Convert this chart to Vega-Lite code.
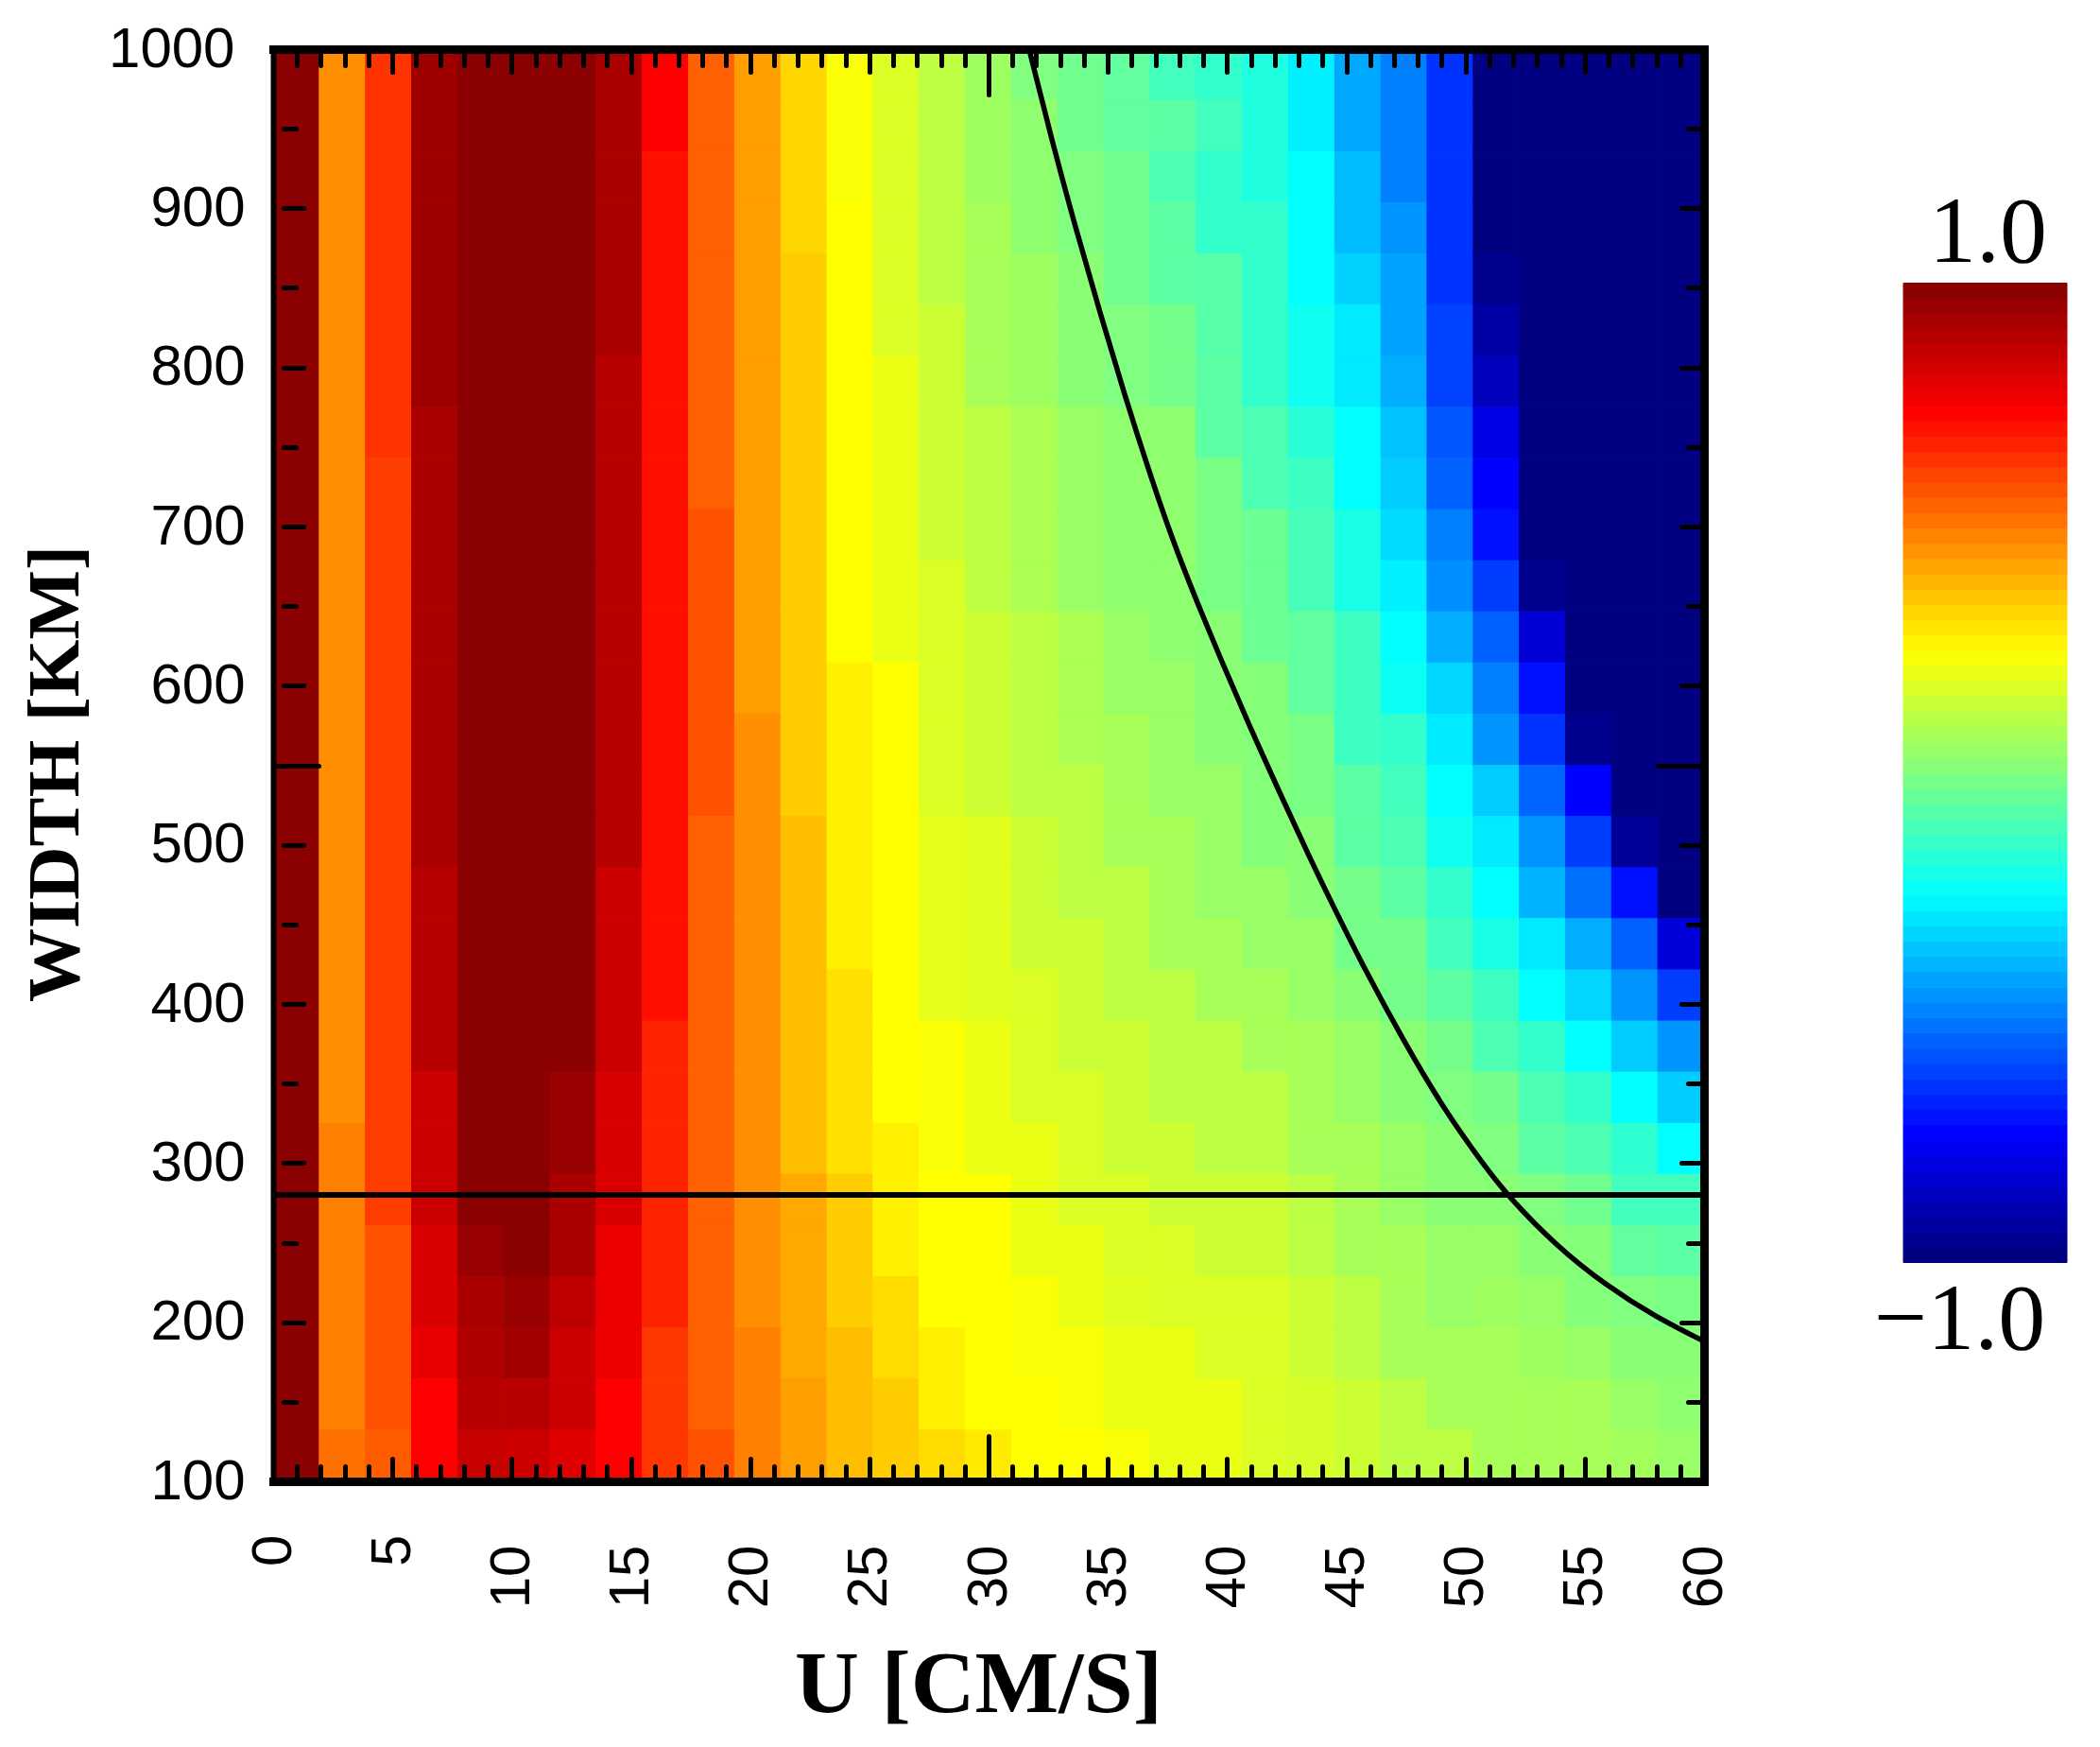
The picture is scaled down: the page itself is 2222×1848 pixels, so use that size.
{"$schema":"https://vega.github.io/schema/vega-lite/v6.json","background":"white","padding":{"left":20,"top":22,"right":0,"bottom":60},"bounds":"flush","spacing":211,"config":{"view":{"stroke":null},"axis":{"grid":false,"labelFont":"Liberation Sans","labelFontSize":60,"labelColor":"black","labelOverlap":false,"labelBound":false,"labelFlush":false,"domainColor":"black","tickColor":"black","tickWidth":5,"tickCap":"round","domainCap":"square","titleColor":"black","titleFont":"Liberation Serif","titleFontWeight":"bold"}},
"datasets":{"rule280":[{"u":0,"w":280},{"u":60,"w":280}],
"curve":[{"u":31.7,"w":1000},{"u":32.7,"w":940},{"u":33.7,"w":885},{"u":34.7,"w":833},{"u":35.7,"w":783},{"u":36.7,"w":736},{"u":37.7,"w":692},{"u":38.7,"w":654},{"u":39.7,"w":618},{"u":40.9,"w":576},{"u":42.2,"w":533},{"u":43.4,"w":494},{"u":44.5,"w":460},{"u":45.8,"w":421},{"u":47.4,"w":377},{"u":49,"w":336},{"u":50.8,"w":298},{"u":51.8,"w":279},{"u":53.8,"w":248},{"u":55.9,"w":223},{"u":58,"w":203},{"u":60,"w":188}],
"cells":[
{"u":0,"w":1000,"v":1},{"u":0,"w":967,"v":1},{"u":0,"w":933,"v":1},{"u":0,"w":900,"v":1},{"u":0,"w":867,"v":1},{"u":0,"w":833,"v":1},{"u":0,"w":800,"v":1},{"u":0,"w":767,"v":1},{"u":0,"w":733,"v":1},{"u":0,"w":700,"v":1},{"u":0,"w":667,"v":1},{"u":0,"w":633,"v":1},{"u":0,"w":600,"v":1},{"u":0,"w":567,"v":1},{"u":0,"w":533,"v":1},{"u":0,"w":500,"v":1},{"u":0,"w":467,"v":1},{"u":0,"w":433,"v":1},{"u":0,"w":400,"v":1},{"u":0,"w":367,"v":1},{"u":0,"w":333,"v":1},{"u":0,"w":300,"v":1},{"u":0,"w":267,"v":1},{"u":0,"w":233,"v":1},{"u":0,"w":200,"v":1},{"u":0,"w":167,"v":1},{"u":0,"w":133,"v":1},{"u":0,"w":100,"v":1},
{"u":2,"w":1000,"v":0.47},{"u":2,"w":967,"v":0.47},{"u":2,"w":933,"v":0.47},{"u":2,"w":900,"v":0.47},{"u":2,"w":867,"v":0.47},{"u":2,"w":833,"v":0.47},{"u":2,"w":800,"v":0.47},{"u":2,"w":767,"v":0.47},{"u":2,"w":733,"v":0.47},{"u":2,"w":700,"v":0.47},{"u":2,"w":667,"v":0.47},{"u":2,"w":633,"v":0.47},{"u":2,"w":600,"v":0.47},{"u":2,"w":567,"v":0.47},{"u":2,"w":533,"v":0.47},{"u":2,"w":500,"v":0.47},{"u":2,"w":467,"v":0.47},{"u":2,"w":433,"v":0.47},{"u":2,"w":400,"v":0.47},{"u":2,"w":367,"v":0.47},{"u":2,"w":333,"v":0.47},{"u":2,"w":300,"v":0.5},{"u":2,"w":267,"v":0.5},{"u":2,"w":233,"v":0.5},{"u":2,"w":200,"v":0.5},{"u":2,"w":167,"v":0.5},{"u":2,"w":133,"v":0.5},{"u":2,"w":100,"v":0.53},
{"u":4,"w":1000,"v":0.65},{"u":4,"w":967,"v":0.65},{"u":4,"w":933,"v":0.65},{"u":4,"w":900,"v":0.65},{"u":4,"w":867,"v":0.65},{"u":4,"w":833,"v":0.65},{"u":4,"w":800,"v":0.65},{"u":4,"w":767,"v":0.65},{"u":4,"w":733,"v":0.63},{"u":4,"w":700,"v":0.63},{"u":4,"w":667,"v":0.63},{"u":4,"w":633,"v":0.63},{"u":4,"w":600,"v":0.63},{"u":4,"w":567,"v":0.63},{"u":4,"w":533,"v":0.63},{"u":4,"w":500,"v":0.63},{"u":4,"w":467,"v":0.63},{"u":4,"w":433,"v":0.63},{"u":4,"w":400,"v":0.63},{"u":4,"w":367,"v":0.63},{"u":4,"w":333,"v":0.63},{"u":4,"w":300,"v":0.63},{"u":4,"w":267,"v":0.63},{"u":4,"w":233,"v":0.59},{"u":4,"w":200,"v":0.59},{"u":4,"w":167,"v":0.59},{"u":4,"w":133,"v":0.59},{"u":4,"w":100,"v":0.57},
{"u":6,"w":1000,"v":0.96},{"u":6,"w":967,"v":0.96},{"u":6,"w":933,"v":0.96},{"u":6,"w":900,"v":0.96},{"u":6,"w":867,"v":0.96},{"u":6,"w":833,"v":0.96},{"u":6,"w":800,"v":0.96},{"u":6,"w":767,"v":0.93},{"u":6,"w":733,"v":0.93},{"u":6,"w":700,"v":0.93},{"u":6,"w":667,"v":0.93},{"u":6,"w":633,"v":0.93},{"u":6,"w":600,"v":0.93},{"u":6,"w":567,"v":0.93},{"u":6,"w":533,"v":0.93},{"u":6,"w":500,"v":0.93},{"u":6,"w":467,"v":0.9},{"u":6,"w":433,"v":0.9},{"u":6,"w":400,"v":0.9},{"u":6,"w":367,"v":0.9},{"u":6,"w":333,"v":0.86},{"u":6,"w":300,"v":0.86},{"u":6,"w":267,"v":0.86},{"u":6,"w":233,"v":0.83},{"u":6,"w":200,"v":0.83},{"u":6,"w":167,"v":0.8},{"u":6,"w":133,"v":0.75},{"u":6,"w":100,"v":0.75},
{"u":8,"w":1000,"v":1},{"u":8,"w":967,"v":1},{"u":8,"w":933,"v":1},{"u":8,"w":900,"v":1},{"u":8,"w":867,"v":1},{"u":8,"w":833,"v":1},{"u":8,"w":800,"v":1},{"u":8,"w":767,"v":1},{"u":8,"w":733,"v":1},{"u":8,"w":700,"v":1},{"u":8,"w":667,"v":1},{"u":8,"w":633,"v":1},{"u":8,"w":600,"v":1},{"u":8,"w":567,"v":1},{"u":8,"w":533,"v":1},{"u":8,"w":500,"v":1},{"u":8,"w":467,"v":1},{"u":8,"w":433,"v":1},{"u":8,"w":400,"v":1},{"u":8,"w":367,"v":1},{"u":8,"w":333,"v":1},{"u":8,"w":300,"v":1},{"u":8,"w":267,"v":1},{"u":8,"w":233,"v":0.97},{"u":8,"w":200,"v":0.93},{"u":8,"w":167,"v":0.92},{"u":8,"w":133,"v":0.9},{"u":8,"w":100,"v":0.87},
{"u":10,"w":1000,"v":1},{"u":10,"w":967,"v":1},{"u":10,"w":933,"v":1},{"u":10,"w":900,"v":1},{"u":10,"w":867,"v":1},{"u":10,"w":833,"v":1},{"u":10,"w":800,"v":1},{"u":10,"w":767,"v":1},{"u":10,"w":733,"v":1},{"u":10,"w":700,"v":1},{"u":10,"w":667,"v":1},{"u":10,"w":633,"v":1},{"u":10,"w":600,"v":1},{"u":10,"w":567,"v":1},{"u":10,"w":533,"v":1},{"u":10,"w":500,"v":1},{"u":10,"w":467,"v":1},{"u":10,"w":433,"v":1},{"u":10,"w":400,"v":1},{"u":10,"w":367,"v":1},{"u":10,"w":333,"v":1},{"u":10,"w":300,"v":1},{"u":10,"w":267,"v":1},{"u":10,"w":233,"v":1},{"u":10,"w":200,"v":0.97},{"u":10,"w":167,"v":0.95},{"u":10,"w":133,"v":0.9},{"u":10,"w":100,"v":0.86},
{"u":12,"w":1000,"v":1},{"u":12,"w":967,"v":1},{"u":12,"w":933,"v":1},{"u":12,"w":900,"v":1},{"u":12,"w":867,"v":1},{"u":12,"w":833,"v":1},{"u":12,"w":800,"v":1},{"u":12,"w":767,"v":1},{"u":12,"w":733,"v":1},{"u":12,"w":700,"v":1},{"u":12,"w":667,"v":1},{"u":12,"w":633,"v":1},{"u":12,"w":600,"v":1},{"u":12,"w":567,"v":1},{"u":12,"w":533,"v":1},{"u":12,"w":500,"v":1},{"u":12,"w":467,"v":1},{"u":12,"w":433,"v":1},{"u":12,"w":400,"v":1},{"u":12,"w":367,"v":1},{"u":12,"w":333,"v":0.97},{"u":12,"w":300,"v":0.97},{"u":12,"w":267,"v":0.93},{"u":12,"w":233,"v":0.93},{"u":12,"w":200,"v":0.89},{"u":12,"w":167,"v":0.86},{"u":12,"w":133,"v":0.86},{"u":12,"w":100,"v":0.82},
{"u":14,"w":1000,"v":0.93},{"u":14,"w":967,"v":0.93},{"u":14,"w":933,"v":0.93},{"u":14,"w":900,"v":0.93},{"u":14,"w":867,"v":0.93},{"u":14,"w":833,"v":0.93},{"u":14,"w":800,"v":0.9},{"u":14,"w":767,"v":0.9},{"u":14,"w":733,"v":0.9},{"u":14,"w":700,"v":0.9},{"u":14,"w":667,"v":0.9},{"u":14,"w":633,"v":0.9},{"u":14,"w":600,"v":0.9},{"u":14,"w":567,"v":0.9},{"u":14,"w":533,"v":0.9},{"u":14,"w":500,"v":0.9},{"u":14,"w":467,"v":0.86},{"u":14,"w":433,"v":0.86},{"u":14,"w":400,"v":0.86},{"u":14,"w":367,"v":0.86},{"u":14,"w":333,"v":0.83},{"u":14,"w":300,"v":0.83},{"u":14,"w":267,"v":0.83},{"u":14,"w":233,"v":0.79},{"u":14,"w":200,"v":0.79},{"u":14,"w":167,"v":0.79},{"u":14,"w":133,"v":0.75},{"u":14,"w":100,"v":0.75},
{"u":16,"w":1000,"v":0.75},{"u":16,"w":967,"v":0.75},{"u":16,"w":933,"v":0.72},{"u":16,"w":900,"v":0.72},{"u":16,"w":867,"v":0.72},{"u":16,"w":833,"v":0.72},{"u":16,"w":800,"v":0.72},{"u":16,"w":767,"v":0.72},{"u":16,"w":733,"v":0.72},{"u":16,"w":700,"v":0.72},{"u":16,"w":667,"v":0.72},{"u":16,"w":633,"v":0.72},{"u":16,"w":600,"v":0.72},{"u":16,"w":567,"v":0.72},{"u":16,"w":533,"v":0.72},{"u":16,"w":500,"v":0.72},{"u":16,"w":467,"v":0.72},{"u":16,"w":433,"v":0.72},{"u":16,"w":400,"v":0.72},{"u":16,"w":367,"v":0.68},{"u":16,"w":333,"v":0.68},{"u":16,"w":300,"v":0.68},{"u":16,"w":267,"v":0.68},{"u":16,"w":233,"v":0.68},{"u":16,"w":200,"v":0.68},{"u":16,"w":167,"v":0.64},{"u":16,"w":133,"v":0.64},{"u":16,"w":100,"v":0.64},
{"u":18,"w":1000,"v":0.56},{"u":18,"w":967,"v":0.56},{"u":18,"w":933,"v":0.56},{"u":18,"w":900,"v":0.56},{"u":18,"w":867,"v":0.56},{"u":18,"w":833,"v":0.56},{"u":18,"w":800,"v":0.56},{"u":18,"w":767,"v":0.56},{"u":18,"w":733,"v":0.56},{"u":18,"w":700,"v":0.59},{"u":18,"w":667,"v":0.59},{"u":18,"w":633,"v":0.59},{"u":18,"w":600,"v":0.59},{"u":18,"w":567,"v":0.59},{"u":18,"w":533,"v":0.59},{"u":18,"w":500,"v":0.56},{"u":18,"w":467,"v":0.56},{"u":18,"w":433,"v":0.56},{"u":18,"w":400,"v":0.56},{"u":18,"w":367,"v":0.56},{"u":18,"w":333,"v":0.56},{"u":18,"w":300,"v":0.56},{"u":18,"w":267,"v":0.56},{"u":18,"w":233,"v":0.56},{"u":18,"w":200,"v":0.56},{"u":18,"w":167,"v":0.56},{"u":18,"w":133,"v":0.56},{"u":18,"w":100,"v":0.59},
{"u":20,"w":1000,"v":0.44},{"u":20,"w":967,"v":0.44},{"u":20,"w":933,"v":0.44},{"u":20,"w":900,"v":0.44},{"u":20,"w":867,"v":0.44},{"u":20,"w":833,"v":0.44},{"u":20,"w":800,"v":0.44},{"u":20,"w":767,"v":0.44},{"u":20,"w":733,"v":0.44},{"u":20,"w":700,"v":0.44},{"u":20,"w":667,"v":0.44},{"u":20,"w":633,"v":0.44},{"u":20,"w":600,"v":0.44},{"u":20,"w":567,"v":0.47},{"u":20,"w":533,"v":0.47},{"u":20,"w":500,"v":0.47},{"u":20,"w":467,"v":0.47},{"u":20,"w":433,"v":0.47},{"u":20,"w":400,"v":0.47},{"u":20,"w":367,"v":0.47},{"u":20,"w":333,"v":0.47},{"u":20,"w":300,"v":0.47},{"u":20,"w":267,"v":0.47},{"u":20,"w":233,"v":0.47},{"u":20,"w":200,"v":0.47},{"u":20,"w":167,"v":0.5},{"u":20,"w":133,"v":0.5},{"u":20,"w":100,"v":0.5},
{"u":22,"w":1000,"v":0.33},{"u":22,"w":967,"v":0.33},{"u":22,"w":933,"v":0.33},{"u":22,"w":900,"v":0.33},{"u":22,"w":867,"v":0.35},{"u":22,"w":833,"v":0.35},{"u":22,"w":800,"v":0.35},{"u":22,"w":767,"v":0.35},{"u":22,"w":733,"v":0.35},{"u":22,"w":700,"v":0.35},{"u":22,"w":667,"v":0.35},{"u":22,"w":633,"v":0.35},{"u":22,"w":600,"v":0.35},{"u":22,"w":567,"v":0.35},{"u":22,"w":533,"v":0.35},{"u":22,"w":500,"v":0.38},{"u":22,"w":467,"v":0.38},{"u":22,"w":433,"v":0.38},{"u":22,"w":400,"v":0.38},{"u":22,"w":367,"v":0.38},{"u":22,"w":333,"v":0.38},{"u":22,"w":300,"v":0.38},{"u":22,"w":267,"v":0.42},{"u":22,"w":233,"v":0.42},{"u":22,"w":200,"v":0.42},{"u":22,"w":167,"v":0.42},{"u":22,"w":133,"v":0.44},{"u":22,"w":100,"v":0.44},
{"u":24,"w":1000,"v":0.24},{"u":24,"w":967,"v":0.24},{"u":24,"w":933,"v":0.24},{"u":24,"w":900,"v":0.25},{"u":24,"w":867,"v":0.25},{"u":24,"w":833,"v":0.25},{"u":24,"w":800,"v":0.25},{"u":24,"w":767,"v":0.25},{"u":24,"w":733,"v":0.25},{"u":24,"w":700,"v":0.25},{"u":24,"w":667,"v":0.25},{"u":24,"w":633,"v":0.25},{"u":24,"w":600,"v":0.28},{"u":24,"w":567,"v":0.28},{"u":24,"w":533,"v":0.28},{"u":24,"w":500,"v":0.28},{"u":24,"w":467,"v":0.28},{"u":24,"w":433,"v":0.28},{"u":24,"w":400,"v":0.31},{"u":24,"w":367,"v":0.31},{"u":24,"w":333,"v":0.31},{"u":24,"w":300,"v":0.31},{"u":24,"w":267,"v":0.35},{"u":24,"w":233,"v":0.35},{"u":24,"w":200,"v":0.35},{"u":24,"w":167,"v":0.38},{"u":24,"w":133,"v":0.38},{"u":24,"w":100,"v":0.38},
{"u":26,"w":1000,"v":0.18},{"u":26,"w":967,"v":0.18},{"u":26,"w":933,"v":0.18},{"u":26,"w":900,"v":0.18},{"u":26,"w":867,"v":0.18},{"u":26,"w":833,"v":0.18},{"u":26,"w":800,"v":0.21},{"u":26,"w":767,"v":0.21},{"u":26,"w":733,"v":0.21},{"u":26,"w":700,"v":0.21},{"u":26,"w":667,"v":0.21},{"u":26,"w":633,"v":0.21},{"u":26,"w":600,"v":0.25},{"u":26,"w":567,"v":0.25},{"u":26,"w":533,"v":0.25},{"u":26,"w":500,"v":0.25},{"u":26,"w":467,"v":0.25},{"u":26,"w":433,"v":0.25},{"u":26,"w":400,"v":0.25},{"u":26,"w":367,"v":0.25},{"u":26,"w":333,"v":0.25},{"u":26,"w":300,"v":0.28},{"u":26,"w":267,"v":0.28},{"u":26,"w":233,"v":0.28},{"u":26,"w":200,"v":0.32},{"u":26,"w":167,"v":0.32},{"u":26,"w":133,"v":0.35},{"u":26,"w":100,"v":0.35},
{"u":28,"w":1000,"v":0.12},{"u":28,"w":967,"v":0.12},{"u":28,"w":933,"v":0.12},{"u":28,"w":900,"v":0.12},{"u":28,"w":867,"v":0.12},{"u":28,"w":833,"v":0.15},{"u":28,"w":800,"v":0.15},{"u":28,"w":767,"v":0.15},{"u":28,"w":733,"v":0.15},{"u":28,"w":700,"v":0.15},{"u":28,"w":667,"v":0.18},{"u":28,"w":633,"v":0.18},{"u":28,"w":600,"v":0.18},{"u":28,"w":567,"v":0.18},{"u":28,"w":533,"v":0.18},{"u":28,"w":500,"v":0.2},{"u":28,"w":467,"v":0.2},{"u":28,"w":433,"v":0.2},{"u":28,"w":400,"v":0.2},{"u":28,"w":367,"v":0.24},{"u":28,"w":333,"v":0.24},{"u":28,"w":300,"v":0.24},{"u":28,"w":267,"v":0.25},{"u":28,"w":233,"v":0.25},{"u":28,"w":200,"v":0.25},{"u":28,"w":167,"v":0.28},{"u":28,"w":133,"v":0.28},{"u":28,"w":100,"v":0.32},
{"u":30,"w":1000,"v":0.06},{"u":30,"w":967,"v":0.06},{"u":30,"w":933,"v":0.06},{"u":30,"w":900,"v":0.08},{"u":30,"w":867,"v":0.08},{"u":30,"w":833,"v":0.08},{"u":30,"w":800,"v":0.08},{"u":30,"w":767,"v":0.12},{"u":30,"w":733,"v":0.12},{"u":30,"w":700,"v":0.12},{"u":30,"w":667,"v":0.12},{"u":30,"w":633,"v":0.15},{"u":30,"w":600,"v":0.15},{"u":30,"w":567,"v":0.15},{"u":30,"w":533,"v":0.15},{"u":30,"w":500,"v":0.19},{"u":30,"w":467,"v":0.19},{"u":30,"w":433,"v":0.19},{"u":30,"w":400,"v":0.19},{"u":30,"w":367,"v":0.21},{"u":30,"w":333,"v":0.21},{"u":30,"w":300,"v":0.21},{"u":30,"w":267,"v":0.25},{"u":30,"w":233,"v":0.25},{"u":30,"w":200,"v":0.25},{"u":30,"w":167,"v":0.25},{"u":30,"w":133,"v":0.25},{"u":30,"w":100,"v":0.29},
{"u":32,"w":1000,"v":0},{"u":32,"w":967,"v":0.03},{"u":32,"w":933,"v":0.03},{"u":32,"w":900,"v":0.03},{"u":32,"w":867,"v":0.06},{"u":32,"w":833,"v":0.06},{"u":32,"w":800,"v":0.06},{"u":32,"w":767,"v":0.09},{"u":32,"w":733,"v":0.09},{"u":32,"w":700,"v":0.09},{"u":32,"w":667,"v":0.09},{"u":32,"w":633,"v":0.12},{"u":32,"w":600,"v":0.12},{"u":32,"w":567,"v":0.12},{"u":32,"w":533,"v":0.12},{"u":32,"w":500,"v":0.15},{"u":32,"w":467,"v":0.15},{"u":32,"w":433,"v":0.15},{"u":32,"w":400,"v":0.18},{"u":32,"w":367,"v":0.18},{"u":32,"w":333,"v":0.18},{"u":32,"w":300,"v":0.21},{"u":32,"w":267,"v":0.21},{"u":32,"w":233,"v":0.21},{"u":32,"w":200,"v":0.24},{"u":32,"w":167,"v":0.24},{"u":32,"w":133,"v":0.25},{"u":32,"w":100,"v":0.25},
{"u":34,"w":1000,"v":-0.03},{"u":34,"w":967,"v":-0.03},{"u":34,"w":933,"v":0},{"u":34,"w":900,"v":0},{"u":34,"w":867,"v":0.02},{"u":34,"w":833,"v":0.02},{"u":34,"w":800,"v":0.02},{"u":34,"w":767,"v":0.05},{"u":34,"w":733,"v":0.05},{"u":34,"w":700,"v":0.05},{"u":34,"w":667,"v":0.05},{"u":34,"w":633,"v":0.09},{"u":34,"w":600,"v":0.09},{"u":34,"w":567,"v":0.09},{"u":34,"w":533,"v":0.12},{"u":34,"w":500,"v":0.12},{"u":34,"w":467,"v":0.12},{"u":34,"w":433,"v":0.15},{"u":34,"w":400,"v":0.15},{"u":34,"w":367,"v":0.15},{"u":34,"w":333,"v":0.18},{"u":34,"w":300,"v":0.18},{"u":34,"w":267,"v":0.18},{"u":34,"w":233,"v":0.21},{"u":34,"w":200,"v":0.21},{"u":34,"w":167,"v":0.24},{"u":34,"w":133,"v":0.24},{"u":34,"w":100,"v":0.25},
{"u":36,"w":1000,"v":-0.06},{"u":36,"w":967,"v":-0.06},{"u":36,"w":933,"v":-0.03},{"u":36,"w":900,"v":-0.03},{"u":36,"w":867,"v":-0.03},{"u":36,"w":833,"v":0},{"u":36,"w":800,"v":0},{"u":36,"w":767,"v":0.03},{"u":36,"w":733,"v":0.03},{"u":36,"w":700,"v":0.03},{"u":36,"w":667,"v":0.03},{"u":36,"w":633,"v":0.05},{"u":36,"w":600,"v":0.05},{"u":36,"w":567,"v":0.08},{"u":36,"w":533,"v":0.08},{"u":36,"w":500,"v":0.08},{"u":36,"w":467,"v":0.12},{"u":36,"w":433,"v":0.12},{"u":36,"w":400,"v":0.12},{"u":36,"w":367,"v":0.15},{"u":36,"w":333,"v":0.15},{"u":36,"w":300,"v":0.15},{"u":36,"w":267,"v":0.18},{"u":36,"w":233,"v":0.18},{"u":36,"w":200,"v":0.19},{"u":36,"w":167,"v":0.21},{"u":36,"w":133,"v":0.21},{"u":36,"w":100,"v":0.24},
{"u":38,"w":1000,"v":-0.12},{"u":38,"w":967,"v":-0.07},{"u":38,"w":933,"v":-0.1},{"u":38,"w":900,"v":-0.07},{"u":38,"w":867,"v":-0.07},{"u":38,"w":833,"v":-0.02},{"u":38,"w":800,"v":-0.02},{"u":38,"w":767,"v":0.03},{"u":38,"w":733,"v":0.03},{"u":38,"w":700,"v":0.03},{"u":38,"w":667,"v":0.03},{"u":38,"w":633,"v":0.03},{"u":38,"w":600,"v":0.05},{"u":38,"w":567,"v":0.05},{"u":38,"w":533,"v":0.05},{"u":38,"w":500,"v":0.08},{"u":38,"w":467,"v":0.08},{"u":38,"w":433,"v":0.08},{"u":38,"w":400,"v":0.12},{"u":38,"w":367,"v":0.12},{"u":38,"w":333,"v":0.12},{"u":38,"w":300,"v":0.15},{"u":38,"w":267,"v":0.15},{"u":38,"w":233,"v":0.18},{"u":38,"w":200,"v":0.18},{"u":38,"w":167,"v":0.21},{"u":38,"w":133,"v":0.21},{"u":38,"w":100,"v":0.21},
{"u":40,"w":1000,"v":-0.15},{"u":40,"w":967,"v":-0.12},{"u":40,"w":933,"v":-0.15},{"u":40,"w":900,"v":-0.15},{"u":40,"w":867,"v":-0.08},{"u":40,"w":833,"v":-0.08},{"u":40,"w":800,"v":-0.07},{"u":40,"w":767,"v":-0.07},{"u":40,"w":733,"v":-0.01},{"u":40,"w":700,"v":-0.01},{"u":40,"w":667,"v":-0.01},{"u":40,"w":633,"v":0.02},{"u":40,"w":600,"v":0.02},{"u":40,"w":567,"v":0.02},{"u":40,"w":533,"v":0.05},{"u":40,"w":500,"v":0.05},{"u":40,"w":467,"v":0.05},{"u":40,"w":433,"v":0.08},{"u":40,"w":400,"v":0.08},{"u":40,"w":367,"v":0.12},{"u":40,"w":333,"v":0.12},{"u":40,"w":300,"v":0.12},{"u":40,"w":267,"v":0.15},{"u":40,"w":233,"v":0.15},{"u":40,"w":200,"v":0.18},{"u":40,"w":167,"v":0.18},{"u":40,"w":133,"v":0.21},{"u":40,"w":100,"v":0.21},
{"u":42,"w":1000,"v":-0.19},{"u":42,"w":967,"v":-0.19},{"u":42,"w":933,"v":-0.19},{"u":42,"w":900,"v":-0.15},{"u":42,"w":867,"v":-0.15},{"u":42,"w":833,"v":-0.15},{"u":42,"w":800,"v":-0.15},{"u":42,"w":767,"v":-0.1},{"u":42,"w":733,"v":-0.1},{"u":42,"w":700,"v":-0.04},{"u":42,"w":667,"v":-0.04},{"u":42,"w":633,"v":-0.04},{"u":42,"w":600,"v":0.01},{"u":42,"w":567,"v":0.01},{"u":42,"w":533,"v":0.01},{"u":42,"w":500,"v":0.01},{"u":42,"w":467,"v":0.05},{"u":42,"w":433,"v":0.05},{"u":42,"w":400,"v":0.08},{"u":42,"w":367,"v":0.08},{"u":42,"w":333,"v":0.12},{"u":42,"w":300,"v":0.12},{"u":42,"w":267,"v":0.15},{"u":42,"w":233,"v":0.15},{"u":42,"w":200,"v":0.18},{"u":42,"w":167,"v":0.18},{"u":42,"w":133,"v":0.18},{"u":42,"w":100,"v":0.18},
{"u":44,"w":1000,"v":-0.28},{"u":44,"w":967,"v":-0.28},{"u":44,"w":933,"v":-0.25},{"u":44,"w":900,"v":-0.25},{"u":44,"w":867,"v":-0.25},{"u":44,"w":833,"v":-0.22},{"u":44,"w":800,"v":-0.22},{"u":44,"w":767,"v":-0.17},{"u":44,"w":733,"v":-0.13},{"u":44,"w":700,"v":-0.11},{"u":44,"w":667,"v":-0.11},{"u":44,"w":633,"v":-0.06},{"u":44,"w":600,"v":-0.06},{"u":44,"w":567,"v":-0.01},{"u":44,"w":533,"v":-0.01},{"u":44,"w":500,"v":0.02},{"u":44,"w":467,"v":0.02},{"u":44,"w":433,"v":0.05},{"u":44,"w":400,"v":0.05},{"u":44,"w":367,"v":0.08},{"u":44,"w":333,"v":0.08},{"u":44,"w":300,"v":0.08},{"u":44,"w":267,"v":0.12},{"u":44,"w":233,"v":0.12},{"u":44,"w":200,"v":0.15},{"u":44,"w":167,"v":0.15},{"u":44,"w":133,"v":0.17},{"u":44,"w":100,"v":0.17},
{"u":46,"w":1000,"v":-0.42},{"u":46,"w":967,"v":-0.42},{"u":46,"w":933,"v":-0.38},{"u":46,"w":900,"v":-0.38},{"u":46,"w":867,"v":-0.34},{"u":46,"w":833,"v":-0.29},{"u":46,"w":800,"v":-0.29},{"u":46,"w":767,"v":-0.25},{"u":46,"w":733,"v":-0.25},{"u":46,"w":700,"v":-0.2},{"u":46,"w":667,"v":-0.2},{"u":46,"w":633,"v":-0.13},{"u":46,"w":600,"v":-0.13},{"u":46,"w":567,"v":-0.13},{"u":46,"w":533,"v":-0.07},{"u":46,"w":500,"v":-0.07},{"u":46,"w":467,"v":-0.02},{"u":46,"w":433,"v":-0.02},{"u":46,"w":400,"v":0.02},{"u":46,"w":367,"v":0.05},{"u":46,"w":333,"v":0.05},{"u":46,"w":300,"v":0.08},{"u":46,"w":267,"v":0.08},{"u":46,"w":233,"v":0.08},{"u":46,"w":200,"v":0.12},{"u":46,"w":167,"v":0.12},{"u":46,"w":133,"v":0.15},{"u":46,"w":100,"v":0.15},
{"u":48,"w":1000,"v":-0.5},{"u":48,"w":967,"v":-0.5},{"u":48,"w":933,"v":-0.5},{"u":48,"w":900,"v":-0.46},{"u":48,"w":867,"v":-0.43},{"u":48,"w":833,"v":-0.43},{"u":48,"w":800,"v":-0.41},{"u":48,"w":767,"v":-0.37},{"u":48,"w":733,"v":-0.35},{"u":48,"w":700,"v":-0.32},{"u":48,"w":667,"v":-0.28},{"u":48,"w":633,"v":-0.25},{"u":48,"w":600,"v":-0.23},{"u":48,"w":567,"v":-0.15},{"u":48,"w":533,"v":-0.12},{"u":48,"w":500,"v":-0.1},{"u":48,"w":467,"v":-0.07},{"u":48,"w":433,"v":-0.02},{"u":48,"w":400,"v":-0.02},{"u":48,"w":367,"v":0.02},{"u":48,"w":333,"v":0.02},{"u":48,"w":300,"v":0.05},{"u":48,"w":267,"v":0.05},{"u":48,"w":233,"v":0.08},{"u":48,"w":200,"v":0.08},{"u":48,"w":167,"v":0.08},{"u":48,"w":133,"v":0.12},{"u":48,"w":100,"v":0.12},
{"u":50,"w":1000,"v":-0.65},{"u":50,"w":967,"v":-0.65},{"u":50,"w":933,"v":-0.65},{"u":50,"w":900,"v":-0.65},{"u":50,"w":867,"v":-0.65},{"u":50,"w":833,"v":-0.62},{"u":50,"w":800,"v":-0.62},{"u":50,"w":767,"v":-0.58},{"u":50,"w":733,"v":-0.56},{"u":50,"w":700,"v":-0.5},{"u":50,"w":667,"v":-0.47},{"u":50,"w":633,"v":-0.41},{"u":50,"w":600,"v":-0.33},{"u":50,"w":567,"v":-0.29},{"u":50,"w":533,"v":-0.25},{"u":50,"w":500,"v":-0.22},{"u":50,"w":467,"v":-0.15},{"u":50,"w":433,"v":-0.12},{"u":50,"w":400,"v":-0.07},{"u":50,"w":367,"v":-0.02},{"u":50,"w":333,"v":0},{"u":50,"w":300,"v":0.02},{"u":50,"w":267,"v":0.02},{"u":50,"w":233,"v":0.05},{"u":50,"w":200,"v":0.05},{"u":50,"w":167,"v":0.08},{"u":50,"w":133,"v":0.08},{"u":50,"w":100,"v":0.12},
{"u":52,"w":1000,"v":-1},{"u":52,"w":967,"v":-1},{"u":52,"w":933,"v":-1},{"u":52,"w":900,"v":-1},{"u":52,"w":867,"v":-0.97},{"u":52,"w":833,"v":-0.93},{"u":52,"w":800,"v":-0.88},{"u":52,"w":767,"v":-0.8},{"u":52,"w":733,"v":-0.75},{"u":52,"w":700,"v":-0.72},{"u":52,"w":667,"v":-0.63},{"u":52,"w":633,"v":-0.56},{"u":52,"w":600,"v":-0.5},{"u":52,"w":567,"v":-0.46},{"u":52,"w":533,"v":-0.35},{"u":52,"w":500,"v":-0.29},{"u":52,"w":467,"v":-0.25},{"u":52,"w":433,"v":-0.2},{"u":52,"w":400,"v":-0.13},{"u":52,"w":367,"v":-0.1},{"u":52,"w":333,"v":-0.02},{"u":52,"w":300,"v":0},{"u":52,"w":267,"v":0.02},{"u":52,"w":233,"v":0.05},{"u":52,"w":200,"v":0.06},{"u":52,"w":167,"v":0.08},{"u":52,"w":133,"v":0.08},{"u":52,"w":100,"v":0.08},
{"u":54,"w":1000,"v":-1},{"u":54,"w":967,"v":-1},{"u":54,"w":933,"v":-1},{"u":54,"w":900,"v":-1},{"u":54,"w":867,"v":-1},{"u":54,"w":833,"v":-1},{"u":54,"w":800,"v":-1},{"u":54,"w":767,"v":-1},{"u":54,"w":733,"v":-1},{"u":54,"w":700,"v":-1},{"u":54,"w":667,"v":-0.97},{"u":54,"w":633,"v":-0.83},{"u":54,"w":600,"v":-0.72},{"u":54,"w":567,"v":-0.65},{"u":54,"w":533,"v":-0.55},{"u":54,"w":500,"v":-0.46},{"u":54,"w":467,"v":-0.4},{"u":54,"w":433,"v":-0.29},{"u":54,"w":400,"v":-0.25},{"u":54,"w":367,"v":-0.15},{"u":54,"w":333,"v":-0.1},{"u":54,"w":300,"v":-0.07},{"u":54,"w":267,"v":0},{"u":54,"w":233,"v":0.02},{"u":54,"w":200,"v":0.05},{"u":54,"w":167,"v":0.06},{"u":54,"w":133,"v":0.08},{"u":54,"w":100,"v":0.08},
{"u":56,"w":1000,"v":-1},{"u":56,"w":967,"v":-1},{"u":56,"w":933,"v":-1},{"u":56,"w":900,"v":-1},{"u":56,"w":867,"v":-1},{"u":56,"w":833,"v":-1},{"u":56,"w":800,"v":-1},{"u":56,"w":767,"v":-1},{"u":56,"w":733,"v":-1},{"u":56,"w":700,"v":-1},{"u":56,"w":667,"v":-1},{"u":56,"w":633,"v":-1},{"u":56,"w":600,"v":-1},{"u":56,"w":567,"v":-0.97},{"u":56,"w":533,"v":-0.75},{"u":56,"w":500,"v":-0.63},{"u":56,"w":467,"v":-0.53},{"u":56,"w":433,"v":-0.41},{"u":56,"w":400,"v":-0.33},{"u":56,"w":367,"v":-0.25},{"u":56,"w":333,"v":-0.15},{"u":56,"w":300,"v":-0.1},{"u":56,"w":267,"v":-0.03},{"u":56,"w":233,"v":0.01},{"u":56,"w":200,"v":0.01},{"u":56,"w":167,"v":0.05},{"u":56,"w":133,"v":0.08},{"u":56,"w":100,"v":0.08},
{"u":58,"w":1000,"v":-1},{"u":58,"w":967,"v":-1},{"u":58,"w":933,"v":-1},{"u":58,"w":900,"v":-1},{"u":58,"w":867,"v":-1},{"u":58,"w":833,"v":-1},{"u":58,"w":800,"v":-1},{"u":58,"w":767,"v":-1},{"u":58,"w":733,"v":-1},{"u":58,"w":700,"v":-1},{"u":58,"w":667,"v":-1},{"u":58,"w":633,"v":-1},{"u":58,"w":600,"v":-1},{"u":58,"w":567,"v":-1},{"u":58,"w":533,"v":-1},{"u":58,"w":500,"v":-0.95},{"u":58,"w":467,"v":-0.72},{"u":58,"w":433,"v":-0.56},{"u":58,"w":400,"v":-0.46},{"u":58,"w":367,"v":-0.35},{"u":58,"w":333,"v":-0.25},{"u":58,"w":300,"v":-0.16},{"u":58,"w":267,"v":-0.12},{"u":58,"w":233,"v":-0.06},{"u":58,"w":200,"v":0},{"u":58,"w":167,"v":0.02},{"u":58,"w":133,"v":0.05},{"u":58,"w":100,"v":0.07},
{"u":60,"w":1000,"v":-1},{"u":60,"w":967,"v":-1},{"u":60,"w":933,"v":-1},{"u":60,"w":900,"v":-1},{"u":60,"w":867,"v":-1},{"u":60,"w":833,"v":-1},{"u":60,"w":800,"v":-1},{"u":60,"w":767,"v":-1},{"u":60,"w":733,"v":-1},{"u":60,"w":700,"v":-1},{"u":60,"w":667,"v":-1},{"u":60,"w":633,"v":-1},{"u":60,"w":600,"v":-1},{"u":60,"w":567,"v":-1},{"u":60,"w":533,"v":-1},{"u":60,"w":500,"v":-1},{"u":60,"w":467,"v":-1},{"u":60,"w":433,"v":-0.82},{"u":60,"w":400,"v":-0.63},{"u":60,"w":367,"v":-0.46},{"u":60,"w":333,"v":-0.35},{"u":60,"w":300,"v":-0.25},{"u":60,"w":267,"v":-0.12},{"u":60,"w":233,"v":-0.07},{"u":60,"w":200,"v":-0.01},{"u":60,"w":167,"v":0.02},{"u":60,"w":133,"v":0.03},{"u":60,"w":100,"v":0.05}
],
"levels":[
{"lo":-1,"hi":-0.96875,"v":-1},{"lo":-0.96875,"hi":-0.9375,"v":-0.9683},{"lo":-0.9375,"hi":-0.90625,"v":-0.9365},{"lo":-0.90625,"hi":-0.875,"v":-0.9048},{"lo":-0.875,"hi":-0.84375,"v":-0.873},{"lo":-0.84375,"hi":-0.8125,"v":-0.8413},{"lo":-0.8125,"hi":-0.78125,"v":-0.8095},{"lo":-0.78125,"hi":-0.75,"v":-0.7778},{"lo":-0.75,"hi":-0.71875,"v":-0.746},{"lo":-0.71875,"hi":-0.6875,"v":-0.7143},{"lo":-0.6875,"hi":-0.65625,"v":-0.6825},{"lo":-0.65625,"hi":-0.625,"v":-0.6508},{"lo":-0.625,"hi":-0.59375,"v":-0.619},{"lo":-0.59375,"hi":-0.5625,"v":-0.5873},{"lo":-0.5625,"hi":-0.53125,"v":-0.5556},{"lo":-0.53125,"hi":-0.5,"v":-0.5238},{"lo":-0.5,"hi":-0.46875,"v":-0.4921},{"lo":-0.46875,"hi":-0.4375,"v":-0.4603},{"lo":-0.4375,"hi":-0.40625,"v":-0.4286},{"lo":-0.40625,"hi":-0.375,"v":-0.3968},{"lo":-0.375,"hi":-0.34375,"v":-0.3651},{"lo":-0.34375,"hi":-0.3125,"v":-0.3333},{"lo":-0.3125,"hi":-0.28125,"v":-0.3016},{"lo":-0.28125,"hi":-0.25,"v":-0.2698},{"lo":-0.25,"hi":-0.21875,"v":-0.2381},{"lo":-0.21875,"hi":-0.1875,"v":-0.2063},{"lo":-0.1875,"hi":-0.15625,"v":-0.1746},{"lo":-0.15625,"hi":-0.125,"v":-0.1429},{"lo":-0.125,"hi":-0.09375,"v":-0.1111},{"lo":-0.09375,"hi":-0.0625,"v":-0.0794},{"lo":-0.0625,"hi":-0.03125,"v":-0.0476},{"lo":-0.03125,"hi":0,"v":-0.0159},
{"lo":0,"hi":0.03125,"v":0.0159},{"lo":0.03125,"hi":0.0625,"v":0.0476},{"lo":0.0625,"hi":0.09375,"v":0.0794},{"lo":0.09375,"hi":0.125,"v":0.1111},{"lo":0.125,"hi":0.15625,"v":0.1429},{"lo":0.15625,"hi":0.1875,"v":0.1746},{"lo":0.1875,"hi":0.21875,"v":0.2063},{"lo":0.21875,"hi":0.25,"v":0.2381},{"lo":0.25,"hi":0.28125,"v":0.2698},{"lo":0.28125,"hi":0.3125,"v":0.3016},{"lo":0.3125,"hi":0.34375,"v":0.3333},{"lo":0.34375,"hi":0.375,"v":0.3651},{"lo":0.375,"hi":0.40625,"v":0.3968},{"lo":0.40625,"hi":0.4375,"v":0.4286},{"lo":0.4375,"hi":0.46875,"v":0.4603},{"lo":0.46875,"hi":0.5,"v":0.4921},{"lo":0.5,"hi":0.53125,"v":0.5238},{"lo":0.53125,"hi":0.5625,"v":0.5556},{"lo":0.5625,"hi":0.59375,"v":0.5873},{"lo":0.59375,"hi":0.625,"v":0.619},{"lo":0.625,"hi":0.65625,"v":0.6508},{"lo":0.65625,"hi":0.6875,"v":0.6825},{"lo":0.6875,"hi":0.71875,"v":0.7143},{"lo":0.71875,"hi":0.75,"v":0.746},{"lo":0.75,"hi":0.78125,"v":0.7778},{"lo":0.78125,"hi":0.8125,"v":0.8095},{"lo":0.8125,"hi":0.84375,"v":0.8413},{"lo":0.84375,"hi":0.875,"v":0.873},{"lo":0.875,"hi":0.90625,"v":0.9048},{"lo":0.90625,"hi":0.9375,"v":0.9365},{"lo":0.9375,"hi":0.96875,"v":0.9683},{"lo":0.96875,"hi":1,"v":1}
],
"barLabels":[{"label":"1.0","pos":1},{"label":"−1.0","pos":-1}]},
"hconcat":[
{"width":1514,"height":1515,
"resolve":{"scale":{"x":"independent","y":"independent","color":"shared","stroke":"shared"},"axis":{"x":"independent","y":"independent"}},
"layer":[
{"data":{"name":"cells"},"mark":{"type":"rect","strokeWidth":1},"encoding":{
"x":{"field":"u","type":"ordinal","axis":null,"scale":{"paddingInner":0,"paddingOuter":0}},
"y":{"field":"w","type":"ordinal","sort":"descending","axis":null,"scale":{"paddingInner":0,"paddingOuter":0}},
"color":{"field":"v","type":"quantitative","legend":null,"scale":{"domain":[-1,-0.75,-0.25,0.25,0.75,1],"range":["#000080","#0000ff","#00ffff","#ffff00","#ff0000","#8b0000"],"interpolate":"rgb"}},
"stroke":{"field":"v","type":"quantitative","legend":null,"scale":{"domain":[-1,-0.75,-0.25,0.25,0.75,1],"range":["#000080","#0000ff","#00ffff","#ffff00","#ff0000","#8b0000"],"interpolate":"rgb"}}}},
{"data":{"name":"rule280"},"mark":{"type":"line","color":"black","strokeWidth":6},"encoding":{
"x":{"field":"u","type":"quantitative","scale":{"domain":[0,60],"nice":false,"zero":false},"axis":{"zindex":1,"orient":"bottom","values":[10,15,20,25,30,35,40,45,50,55,60],"format":"d","ticks":false,"tickSize":0,"labelAngle":270,"labelPadding":67,"domainWidth":9,"title":"U [CM/S]","titleFontSize":94,"titleX":746,"titleY":243,"titleBaseline":"alphabetic","titleAnchor":"middle"}},
"y":{"field":"w","type":"quantitative","scale":{"domain":[100,1000],"nice":false,"zero":false},"axis":{"zindex":1,"orient":"left","values":[100,200,300,400,500,550,600,700,800,900],"format":"d","labelExpr":"datum.value==550?'':datum.label","tickSize":{"condition":{"test":"datum.value==550","value":-48},"value":0},"tickOpacity":{"condition":{"test":"datum.value==550","value":1},"value":0},"labelPadding":30,"domainWidth":6,"title":"WIDTH [KM]","titleFontSize":78,"titleX":-207,"titleY":766,"titleBaseline":"alphabetic","titleAngle":270}}}},
{"data":{"name":"curve"},"mark":{"type":"line","color":"black","strokeWidth":5.5,"interpolate":"basis"},"encoding":{
"x":{"field":"u","type":"quantitative","scale":{"domain":[0,60],"nice":false,"zero":false},"axis":{"zindex":1,"orient":"bottom","values":[0,1,2,3,4,5,6,7,8,9,10,11,12,13,14,15,16,17,18,19,20,21,22,23,24,25,26,27,28,29,30,31,32,33,34,35,36,37,38,39,40,41,42,43,44,45,46,47,48,49,50,51,52,53,54,55,56,57,58,59,60],"domain":false,"labels":false,"title":null,"tickSize":{"condition":[{"test":"datum.value==30","value":-48},{"test":"datum.value%5==0","value":-24}],"value":-16}}},
"y":{"field":"w","type":"quantitative","scale":{"domain":[100,1000],"nice":false,"zero":false},"axis":{"zindex":1,"orient":"left","offset":-11,"values":[100,150,200,250,300,350,400,450,500,600,650,700,750,800,850,900,950,1000],"domain":false,"labels":false,"title":null,"tickSize":{"condition":{"test":"datum.value%100==0","value":-21},"value":-13}}}}},
{"data":{"name":"rule280"},"mark":{"type":"line","opacity":0},"encoding":{
"x":{"field":"u","type":"quantitative","scale":{"domain":[0,60],"nice":false,"zero":false},"axis":{"zindex":1,"orient":"top","values":[0,1,2,3,4,5,6,7,8,9,10,11,12,13,14,15,16,17,18,19,20,21,22,23,24,25,26,27,28,29,30,31,32,33,34,35,36,37,38,39,40,41,42,43,44,45,46,47,48,49,50,51,52,53,54,55,56,57,58,59,60],"domainWidth":9,"labels":false,"title":null,"tickSize":{"condition":[{"test":"datum.value==30","value":-48},{"test":"datum.value%5==0","value":-24}],"value":-17}}},
"y":{"field":"w","type":"quantitative","scale":{"domain":[100,1000],"nice":false,"zero":false},"axis":{"zindex":1,"orient":"right","values":[100,150,200,250,300,350,400,450,500,550,600,650,700,750,800,850,900,950,1000],"domainWidth":9,"labels":false,"title":null,"tickSize":{"condition":[{"test":"datum.value==550","value":-49},{"test":"datum.value%100==0","value":-24}],"value":-17}}}}},
{"data":{"name":"rule280"},"mark":{"type":"line","opacity":0},"encoding":{
"x":{"field":"u","type":"quantitative","scale":{"domain":[0,60],"nice":false,"zero":false},"axis":{"zindex":1,"orient":"bottom","values":[0,5],"format":"d","ticks":false,"tickSize":0,"domain":false,"labelAngle":270,"labelPadding":56,"title":null}},
"y":{"field":"w","type":"quantitative","scale":{"domain":[100,1000],"nice":false,"zero":false},"axis":{"zindex":1,"orient":"left","values":[1000],"format":"d","ticks":false,"tickSize":0,"domain":false,"labelPadding":41,"title":null}}}}
]},
{"width":173,"height":1515,
"layer":[
{"data":{"name":"levels"},"mark":{"type":"rect","strokeWidth":1},"encoding":{
"y":{"field":"lo","type":"quantitative","axis":null,"scale":{"domain":[-1.4469,1.4778],"nice":false,"zero":false}},
"y2":{"field":"hi"},
"color":{"field":"v","type":"quantitative","legend":null,"scale":{"domain":[-1,-0.75,-0.25,0.25,0.75,1],"range":["#000080","#0000ff","#00ffff","#ffff00","#ff0000","#8b0000"],"interpolate":"rgb"}},
"stroke":{"field":"v","type":"quantitative","legend":null,"scale":{"domain":[-1,-0.75,-0.25,0.25,0.75,1],"range":["#000080","#0000ff","#00ffff","#ffff00","#ff0000","#8b0000"],"interpolate":"rgb"}}}},
{"data":{"name":"barLabels"},"transform":[{"filter":"datum.pos>0"}],"mark":{"type":"text","font":"Liberation Serif","fontSize":100,"color":"black","dy":-53,"dx":3},"encoding":{"text":{"field":"label"},"y":{"field":"pos","type":"quantitative","axis":null,"scale":{"domain":[-1.4469,1.4778],"nice":false,"zero":false}}}},
{"data":{"name":"barLabels"},"transform":[{"filter":"datum.pos<0"}],"mark":{"type":"text","font":"Liberation Serif","fontSize":100,"color":"black","dy":61,"dx":-27},"encoding":{"text":{"field":"label"},"y":{"field":"pos","type":"quantitative","axis":null,"scale":{"domain":[-1.4469,1.4778],"nice":false,"zero":false}}}}
]}
]}
